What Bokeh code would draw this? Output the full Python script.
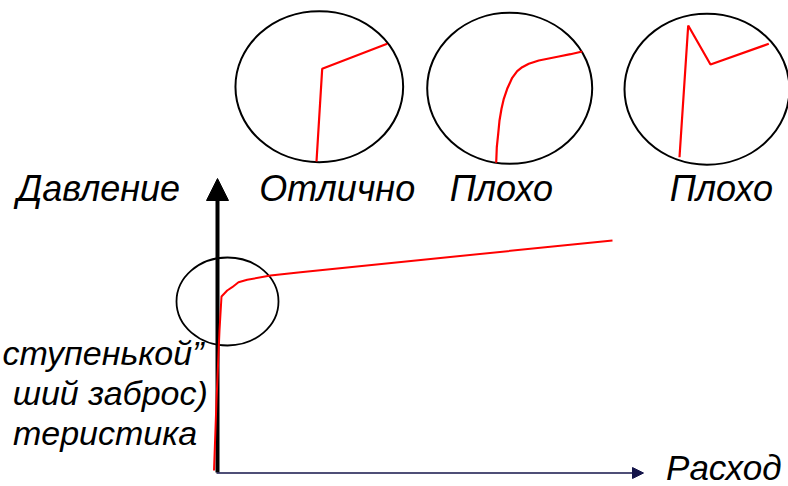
from bokeh.plotting import figure
from bokeh.models import Range1d, Arrow, NormalHead
from bokeh.core.properties import value
from bokeh.embed import file_html
from bokeh.resources import INLINE

# Diagram units: origin at the axes corner, 1 unit ~ 1 px
# Main characteristic: flow (Расход) vs pressure (Давление)
main_flow = [-2.5, 0, 3, 5, 10.7, 15.7, 22, 30.7, 54, 84, 396]
main_pressure = [2, 72, 142, 176, 182, 185.3, 190.3, 192.7, 197, 200.3, 232]

# Circle around the knee of the main curve
knee_x, knee_y, knee_w, knee_h = [11], [171], [102], [88]

# Inset circles (centres and sizes)
inset_x = [102.8, 293.2, 490.5]
inset_y = [385.8, 384.2, 383.3]
inset_w = [167.7, 165, 165]
inset_h = [151, 151, 151]

# Inset curves
ex_x = [100, 105.7, 170.7]
ex_y = [311, 403.7, 428.7]
bad1_x = [279.7, 280.3, 281.7, 283, 285, 287.3, 290.7, 295.7, 300.7, 305.7, 312.3, 322.3, 332.3, 342.3, 354, 365.7]
bad1_y = [309.7, 325.3, 338.7, 352, 363.7, 373.7, 383.7, 394.7, 401.3, 405.3, 408.7, 412, 414, 416, 418.3, 421]
bad2_x = [463, 471.7, 494, 552.3]
bad2_y = [315.3, 447, 408, 428.7]

# Labels
top_labels = ["Давление", "Отлично", "Плохо", "Плохо"]
top_x = [-118, 120.7, 284.8, 504.8]
top_y = [284, 284, 284, 284]

left_labels = ["ступенькой”", "ший заброс)", "теристика"]
left_x = [-13, -8.7, -19.3]
left_y = [120, 80, 40]

flow_label = ["Расход"]
flow_label_x = [565]
flow_label_y = [5]

p = figure(width=788, height=486, x_range=Range1d(-216, 572), y_range=Range1d(-14, 472),
           output_backend="svg", toolbar_location=None, min_border=0, title=None,
           x_axis_location=None, y_axis_location=None)
p.grid.visible = False
p.outline_line_color = None
p.background_fill_color = "white"

# Axes with arrows
y_arrow = Arrow(end=NormalHead(size=22, line_color="black", fill_color="black", line_width=1),
                x_start=1, y_start=0, x_end=1, y_end=294, line_color="black", line_width=4,
                level="underlay")
x_arrow = Arrow(end=NormalHead(size=11, line_color="#14144a", fill_color="#14144a", line_width=1),
                x_start=0, y_start=-0.5, x_end=427, y_end=-0.5, line_color="#14144a", line_width=1.6,
                level="underlay")
p.add_layout(y_arrow)
p.add_layout(x_arrow)

# Circles
p.ellipse(x=knee_x, y=knee_y, width=knee_w, height=knee_h, fill_color=None,
          line_color="black", line_width=1.8)
p.ellipse(x=inset_x, y=inset_y, width=inset_w, height=inset_h, fill_color=None,
          line_color="black", line_width=2)

# Curves
p.line(main_flow, main_pressure, line_color="red", line_width=2)
p.line(ex_x, ex_y, line_color="red", line_width=2.2)
p.line(bad1_x, bad1_y, line_color="red", line_width=2.2)
p.line(bad2_x, bad2_y, line_color="red", line_width=2.2)

font = value("Liberation Sans")
p.text(x=top_x, y=top_y, text=top_labels, text_font=font, text_font_style="italic",
       text_font_size="36px", text_align="center", text_baseline="alphabetic", text_color="black")
p.text(x=left_x, y=left_y, text=left_labels, text_font=font, text_font_style="italic",
       text_font_size="34px", text_align="right", text_baseline="alphabetic", text_color="black")
p.text(x=flow_label_x, y=flow_label_y, text=flow_label, text_font=font, text_font_style="italic",
       text_font_size="35px", text_align="right", text_baseline="alphabetic", text_color="black")

open("out.html", "w").write(file_html(p, INLINE))
